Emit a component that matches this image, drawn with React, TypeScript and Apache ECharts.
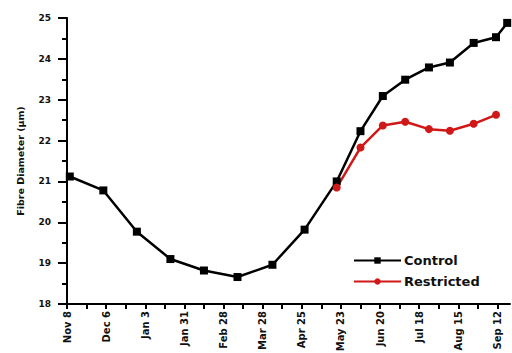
import React, { useEffect, useRef } from "react";
import * as echarts from "echarts";

// Days since Nov 8 of each sampling
const sampleDays = [2, 26, 50, 74, 98, 122, 147, 170, 193, 210, 226, 242, 259, 274, 291, 307, 315];
const controlValues = [21.12, 20.78, 19.77, 19.1, 18.82, 18.66, 18.96, 19.82, 21.0, 22.23, 23.09, 23.49, 23.79, 23.91, 24.39, 24.53, 24.88];
const restrictedValues: (number | null)[] = [null, null, null, null, null, null, null, null, 20.85, 21.83, 22.37, 22.46, 22.28, 22.24, 22.41, 22.63, null];
const tickLabels = ["Nov 8", "Dec 6", "Jan 3", "Jan 31", "Feb 28", "Mar 28", "Apr 25", "May 23", "Jun 20", "Jul 18", "Aug 15", "Sep 12"];
const labelStep = 28;
const tickStep = 14;

const FONT = "'DejaVu Sans', sans-serif";

export default function App() {
  const ref = useRef<HTMLDivElement>(null);
  useEffect(() => {
    if (!ref.current) return;
    const chart = echarts.init(ref.current, null, { renderer: "svg" });
    const labelValues = tickLabels.map((_, i) => i * labelStep);
    const tickValues: number[] = [];
    for (let v = 0; v <= labelValues[labelValues.length - 1]; v += tickStep) tickValues.push(v);
    const controlData = sampleDays.map((d, i) => [d, controlValues[i]]);
    const restrictedData = sampleDays
      .map((d, i) => [d, restrictedValues[i]])
      .filter((p) => p[1] !== null);
    chart.setOption({
      animation: false,
      backgroundColor: "#ffffff",
      grid: { left: 67, right: 2, top: 18, bottom: 49, containLabel: false, outerBoundsMode: "none" },
      legend: {
        orient: "vertical",
        left: 353,
        top: 254,
        padding: 0,
        itemWidth: 47,
        itemHeight: 8,
        itemGap: 8,
        textStyle: { fontFamily: FONT, fontWeight: "bold", fontSize: 13, lineHeight: 13, color: "#111", padding: [0, 0, 0, -2] },
        data: ["Control", "Restricted"],
      },
      xAxis: {
        type: "value",
        min: 0,
        max: 317,
        splitLine: { show: false },
        axisLine: { show: true, lineStyle: { color: "#000", width: 2 } },
        axisTick: { show: true, customValues: tickValues, length: 5, lineStyle: { color: "#000", width: 2 } },
        axisLabel: {
          customValues: labelValues,
          rotate: 90,
          margin: 7,
          fontFamily: FONT,
          fontWeight: "bold",
          fontSize: 10,
          color: "#111",
          formatter: (v: number) => tickLabels[Math.round(v / labelStep)] ?? "",
        },
      },
      yAxis: {
        type: "value",
        min: 18,
        max: 25,
        interval: 1,
        name: "Fibre Diameter (\u03bcm)",
        nameLocation: "middle",
        nameGap: 42,
        nameTextStyle: { fontFamily: FONT, fontWeight: "bold", fontSize: 9.5, color: "#111" },
        splitLine: { show: false },
        axisLine: { show: true, lineStyle: { color: "#000", width: 2 } },
        axisTick: { show: true, length: 9, lineStyle: { color: "#000", width: 2 } },
        minorTick: { show: true, splitNumber: 2, length: 5, lineStyle: { color: "#000", width: 2 } },
        axisLabel: { margin: 16, fontFamily: FONT, fontWeight: "bold", fontSize: 9, color: "#111" },
      },
      series: [
        {
          name: "Control",
          type: "line",
          data: controlData,
          symbol: "rect",
          symbolSize: 8,
          itemStyle: { color: "#000" },
          lineStyle: { color: "#000", width: 2.5 },
        },
        {
          name: "Restricted",
          type: "line",
          data: restrictedData,
          symbol: "circle",
          symbolSize: 8,
          itemStyle: { color: "#d01818" },
          lineStyle: { color: "#d01818", width: 2.5 },
        },
      ],
    });
    return () => chart.dispose();
  }, []);
  return <div ref={ref} style={{ width: 512, height: 353, position: "absolute", left: 0, top: 0 }} />;
}
